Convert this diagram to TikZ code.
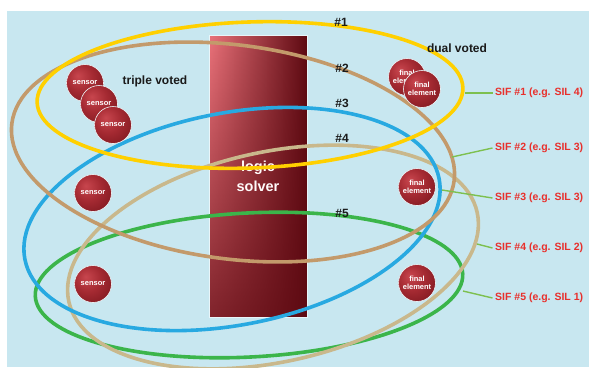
\documentclass[tikz,border=0pt]{standalone}
\usepackage{fontspec}
\setmainfont{Liberation Sans}
\usepackage{xcolor}
\usepackage{tikz}
\usetikzlibrary{fadings}
\definecolor{bgblue}{HTML}{C8E7F0}
\definecolor{ringyellow}{HTML}{FFD000}
\definecolor{ringbrown}{HTML}{C39A6B}
\definecolor{ringblue}{HTML}{28A9E1}
\definecolor{ringtan}{HTML}{C9B88C}
\definecolor{ringgreen}{HTML}{3BB54A}
\definecolor{leadgreen}{HTML}{7DC04F}
\definecolor{sifred}{HTML}{E8302C}
\definecolor{solverlight}{HTML}{EA727A}
\definecolor{solverdark}{HTML}{5E0A12}
\definecolor{sphhi}{HTML}{C8464E}
\definecolor{sphmid}{HTML}{A52A32}
\definecolor{sphlo}{HTML}{6C1017}
\definecolor{ink}{HTML}{1A1A1A}
\pgfdeclareradialshading{sphere}{\pgfpoint{-10bp}{10bp}}%
  {color(0bp)=(sphhi); color(18bp)=(sphmid); color(46bp)=(sphlo); color(70bp)=(sphlo)}
\tikzset{
  ring/.style={line width=3.6pt},
  ball/.style={circle, shading=sphere, draw=white!70!bgblue, line width=0.6pt,
               minimum size=37pt, inner sep=0pt, align=center, text=white,
               font=\fontsize{7.5}{7.5}\selectfont\bfseries},
  solver/.style={rectangle, left color=solverlight, right color=solverdark,
                 draw=white!60!bgblue, line width=0.5pt, minimum width=98pt,
                 minimum height=282pt, text=white!92!pink, align=center,
                 font=\fontsize{14.5}{20}\selectfont\bfseries,
                 path picture={\fill[solverdark, path fading=north, fill opacity=0.75]
                   (path picture bounding box.south west) rectangle
                   (path picture bounding box.north east);}},
  tag/.style={font=\fontsize{12}{14}\selectfont\bfseries, text=ink},
  sif/.style={anchor=west, inner sep=2.5pt, text=sifred,
              font=\fontsize{10.5}{12}\selectfont\bfseries},
  leader/.style={draw=leadgreen, line width=1.4pt},
}

\begin{document}
\begin{tikzpicture}[x=1pt, y=-1pt]
  \useasboundingbox (0,0) rectangle (589,367);
  \fill[white] (0,0) rectangle (589,367);
  \fill[bgblue] (7,11) rectangle (589,367);

  \node[solver] (logic) at (258,176) {logic\\solver};

  % the five SIF loops
  \draw[ring, ringgreen, rotate around={3:(249,285)}] (249,285) ellipse [x radius=214, y radius=72];
  \draw[ring, ringtan, rotate around={12.3:(273,257)}] (273,257) ellipse [x radius=209, y radius=105];
  \draw[ring, ringblue, rotate around={11:(232,219)}] (232,219) ellipse [x radius=211, y radius=106];
  \draw[ring, ringbrown, rotate around={-7.4:(233,152)}] (233,152) ellipse [x radius=223, y radius=107];
  \draw[ring, ringyellow, rotate around={2:(250,95)}] (250,95) ellipse [x radius=213, y radius=73];

  \node[ball] (s1) at (85,83) {sensor};
  \node[ball] (s2) at (99,104) {sensor};
  \node[ball] (s3) at (113,125) {sensor};
  \node[ball] (s4) at (93,193) {sensor};
  \node[ball] (s5) at (93,284) {sensor};
  \node[ball] (f1) at (407,77) {final\\element};
  \node[ball] (f2) at (422,89) {final\\element};
  \node[ball] (f3) at (417,187) {final\\element};
  \node[ball] (f4) at (417,283) {final\\element};

  \node[tag] (triple) at (155,81) {triple voted};
  \node[tag] (dual) at (457,48) {dual voted};
  \node[tag] (n1) at (341,22) {\#1};
  \node[tag] (n2) at (342,68) {\#2};
  \node[tag] (n3) at (342,103) {\#3};
  \node[tag] (n4) at (342,138) {\#4};
  \node[tag] (n5) at (342,213) {\#5};

  \node[sif] (sif1) at (492.5,93) {SIF \#1 (e.g. SIL 4)};
  \node[sif] (sif2) at (492.5,148) {SIF \#2 (e.g. SIL 3)};
  \node[sif] (sif3) at (492.5,198) {SIF \#3 (e.g. SIL 3)};
  \node[sif] (sif4) at (492.5,248) {SIF \#4 (e.g. SIL 2)};
  \node[sif] (sif5) at (492.5,298) {SIF \#5 (e.g. SIL 1)};

  \coordinate (e1) at (465,93);
  \coordinate (e2) at (452,157);
  \coordinate (e3) at (442,190);
  \coordinate (e4) at (477,244);
  \coordinate (e5) at (463,291);
  \draw[leader] (e1) -- (sif1.west);
  \draw[leader] (e2) -- (sif2.west);
  \draw[leader] (e3) -- (sif3.west);
  \draw[leader] (e4) -- (sif4.west);
  \draw[leader] (e5) -- (sif5.west);
\end{tikzpicture}
\end{document}
